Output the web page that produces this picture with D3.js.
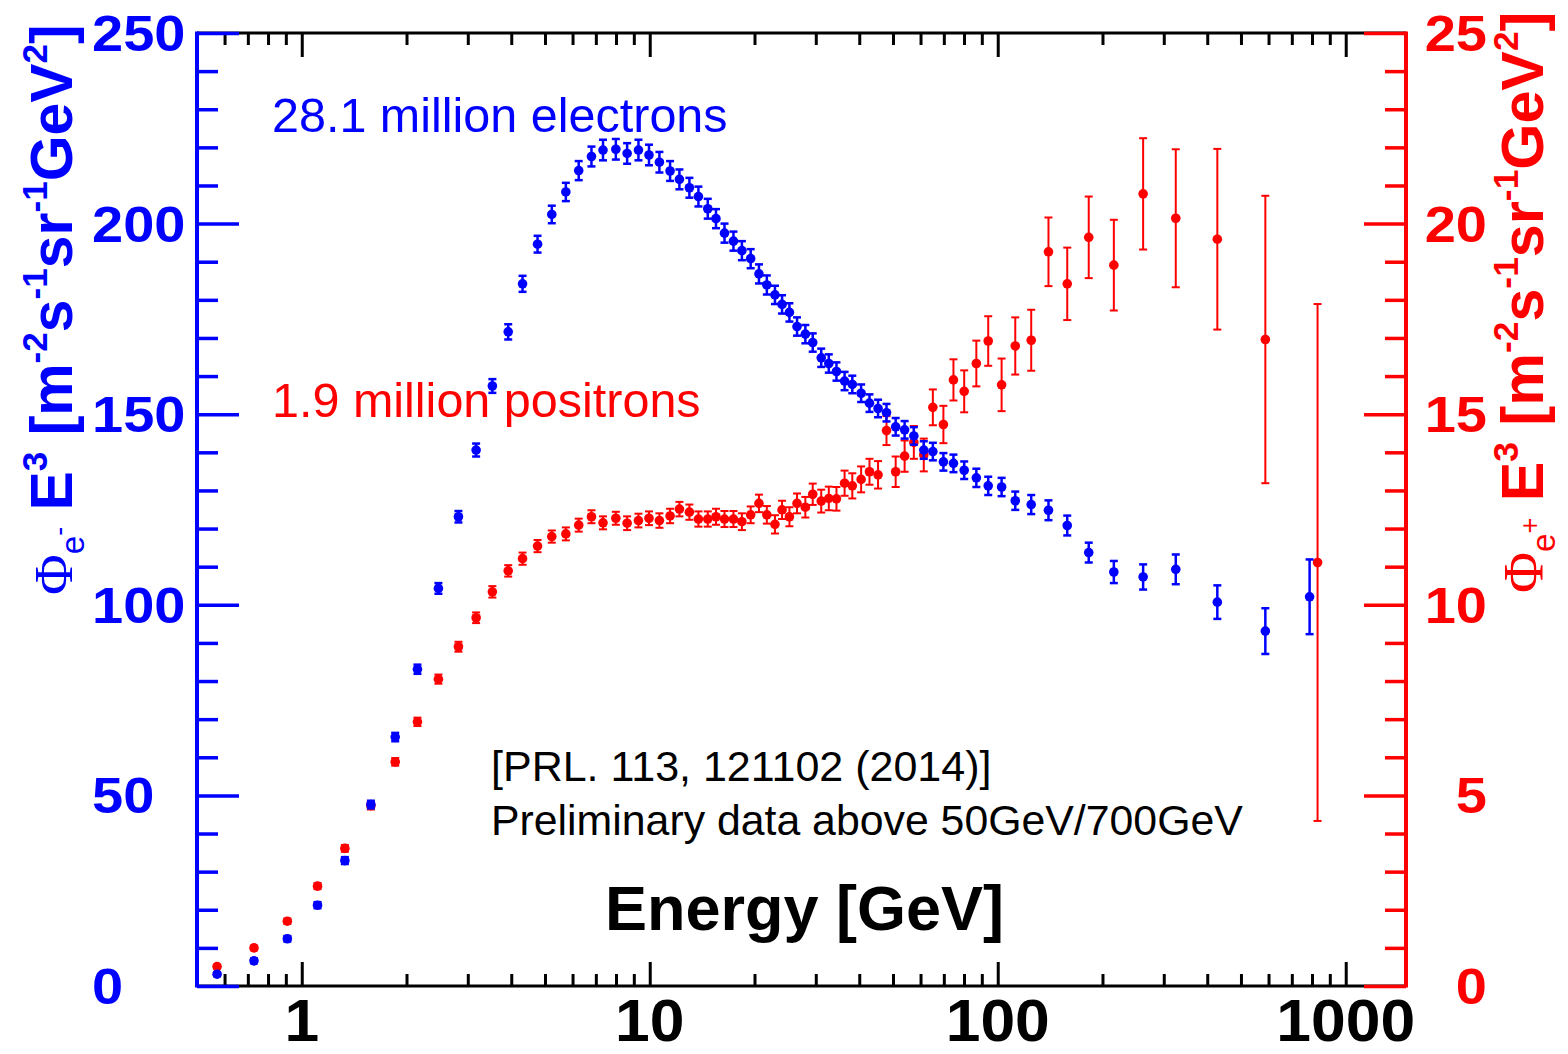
<!DOCTYPE html>
<html><head><meta charset="utf-8">
<script src="https://cdn.jsdelivr.net/npm/d3@7"></script>
<style>html,body{margin:0;padding:0;background:#fff;} svg{display:block;}</style>
</head><body><svg id="c" width="1568" height="1054"></svg>
<script>
// ---------------- data ----------------
const electronEnergy = [0.571,0.729,0.909,1.11,1.33,1.58,1.856,2.15,2.47,2.82,3.17,3.53,3.92,4.31,4.76,5.23,5.74,6.25,6.80,7.34,7.99,8.61,9.28,9.95,10.66,11.44,12.17,13.0,13.8,14.68,15.5,16.4,17.4,18.4,19.5,20.6,21.7,22.9,24.0,25.2,26.5,28.0,29.4,31.1,32.7,34.4,36.3,38.2,40.5,42.8,45.3,47.9,50.9,54.0,57.4,61.3,65.1,69.8,74.6,80.1,86.8,93.9,102.6,112.3,124.8,139.9,158.4,182.6,215.6,261.7,324.8,427.6,587.5,787.4];
const electronFlux = [3.1,6.6,12.4,21.2,32.9,47.6,65.3,83.1,104.3,123.1,140.6,157.4,171.6,184.2,194.6,202.4,208.3,213.9,217.6,219.3,219.5,218.4,219.3,218.0,216.1,213.8,211.6,209.4,207.1,203.9,201.3,197.5,195.4,192.9,190.8,186.8,183.9,181.3,178.8,176.7,173.0,171.0,168.8,164.8,163.3,161.2,158.7,157.8,155.5,152.9,151.5,150.4,146.7,145.9,144.3,140.6,140.2,137.5,137.1,135.3,133.3,131.2,130.9,127.3,126.3,124.8,120.8,113.7,108.6,107.3,109.3,100.7,93.1,102.1];
const electronErr = [0.5,0.6,0.7,0.8,0.9,1.0,1.1,1.2,1.4,1.5,1.7,1.8,2.0,2.1,2.2,2.3,2.4,2.5,2.6,2.7,2.7,2.7,2.7,2.7,2.7,2.6,2.6,2.6,2.6,2.6,2.5,2.5,2.5,2.5,2.5,2.5,2.5,2.4,2.4,2.4,2.4,2.4,2.4,2.4,2.4,2.4,2.4,2.3,2.3,2.3,2.3,2.3,2.3,2.3,2.3,2.3,2.3,2.3,2.3,2.3,2.4,2.4,2.4,2.4,2.5,2.6,2.6,2.6,2.9,3.3,3.9,4.4,6.0,9.8];

const positronEnergy = [0.571,0.729,0.909,1.11,1.33,1.58,1.856,2.15,2.47,2.82,3.17,3.53,3.92,4.31,4.76,5.23,5.74,6.25,6.80,7.34,7.99,8.61,9.28,9.95,10.66,11.44,12.17,13.0,13.8,14.68,15.5,16.4,17.4,18.4,19.5,20.6,21.7,22.9,24.0,25.2,26.5,28.0,29.4,31.1,32.7,34.4,36.3,38.2,40.5,42.8,45.3,47.9,50.9,54.0,57.4,61.3,65.1,69.8,74.6,80.1,86.8,93.9,102.6,112.3,124.8,139.9,158.4,182.6,215.6,261.7,324.8,427.6,587.5,830];
const positronFlux = [0.51,1.0,1.70,2.62,3.61,4.73,5.88,6.93,8.05,8.90,9.66,10.34,10.89,11.21,11.54,11.79,11.86,12.09,12.31,12.15,12.27,12.14,12.21,12.27,12.21,12.33,12.51,12.43,12.25,12.25,12.31,12.25,12.25,12.18,12.36,12.66,12.36,12.11,12.49,12.31,12.66,12.56,12.90,12.72,12.79,12.78,13.19,13.12,13.29,13.49,13.41,14.57,13.49,13.90,14.26,13.93,15.18,14.73,15.90,15.60,16.33,16.92,15.77,16.79,16.94,19.26,18.42,19.64,18.91,20.78,20.14,19.59,16.96,11.11];
const positronErr = [0.05,0.06,0.07,0.08,0.09,0.10,0.10,0.11,0.12,0.13,0.14,0.15,0.15,0.16,0.16,0.16,0.17,0.17,0.17,0.17,0.17,0.18,0.18,0.18,0.19,0.19,0.19,0.20,0.20,0.20,0.21,0.21,0.21,0.22,0.22,0.23,0.23,0.24,0.24,0.25,0.26,0.27,0.28,0.30,0.31,0.31,0.33,0.33,0.34,0.34,0.36,0.38,0.40,0.41,0.43,0.43,0.47,0.49,0.54,0.55,0.60,0.65,0.69,0.75,0.80,0.90,0.95,1.07,1.19,1.46,1.81,2.37,3.77,6.78];

const xMajorTicks = [1, 10, 100, 1000];
const xTickLabels = ["1", "10", "100", "1000"];
const leftMajorTicks = [0, 50, 100, 150, 200, 250];
const rightMajorTicks = [0, 5, 10, 15, 20, 25];
const leftMinorStep = 10, rightMinorStep = 1;

// ---------------- layout ----------------
const BLUE = "#0000ff", RED = "#ff0000";
const FONT = "'Liberation Sans', Arial, Helvetica, sans-serif";
const L = 197, R = 1406, T = 33, B = 986;
const svg = d3.select("#c");
svg.append("rect").attr("width",1568).attr("height",1054).attr("fill","#fff");

const x = d3.scaleLog().domain([0.5, 1500]).range([L, 1407]);
const yL = d3.scaleLinear().domain([0, 250]).range([B, T]);
const yR = d3.scaleLinear().domain([0, 25]).range([B, T]);

// frame (black)
const frame = svg.append("g").attr("stroke","#000").attr("stroke-width",3);
frame.append("line").attr("x1",L).attr("x2",R).attr("y1",T).attr("y2",T);
frame.append("line").attr("x1",L).attr("x2",R).attr("y1",B).attr("y2",B);

// x ticks bottom (pointing up) and top (pointing down)
const xMinor = x.ticks().filter(v => !xMajorTicks.includes(v));
function xAxes(gen, y) {
  const g1 = svg.append("g").attr("transform",`translate(0,${y})`)
    .call(gen(x).tickValues(xMajorTicks).tickSize(24).tickFormat(""));
  const g2 = svg.append("g").attr("transform",`translate(0,${y})`)
    .call(gen(x).tickValues(xMinor).tickSize(12).tickFormat(""));
  [g1,g2].forEach(g => { g.select(".domain").remove(); g.selectAll("line").attr("stroke","#000").attr("stroke-width",3); });
}
xAxes(d3.axisTop, B);
xAxes(d3.axisBottom, T);

// y axes
function yAxis(scale, gen, xpos, majors, step, color) {
  const dom = scale.domain();
  const minors = d3.range(dom[0], dom[1] + step/2, step).filter(v => !majors.includes(v));
  const g1 = svg.append("g").attr("transform",`translate(${xpos},0)`)
    .call(gen(scale).tickValues(minors).tickSize(21).tickFormat(""));
  const g2 = svg.append("g").attr("transform",`translate(${xpos},0)`)
    .call(gen(scale).tickValues(majors).tickSize(42).tickFormat(""));
  [g1,g2].forEach(g => { g.select(".domain").remove(); g.selectAll("line").attr("stroke",color).attr("stroke-width",3.5); });
  svg.append("line").attr("x1",xpos).attr("x2",xpos).attr("y1",T-1.5).attr("y2",B+1.5)
    .attr("stroke",color).attr("stroke-width",4);
}
yAxis(yL, d3.axisRight, L, leftMajorTicks, leftMinorStep, BLUE);
yAxis(yR, d3.axisLeft, R, rightMajorTicks, rightMinorStep, RED);

// tick labels
svg.append("g").selectAll("text").data(leftMajorTicks).join("text")
  .attr("transform", d => `translate(92,${yL(d)+18}) scale(1.12,1)`)
  .attr("font-family",FONT).attr("font-weight","bold").attr("font-size",50)
  .attr("fill",BLUE).text(d => d);
svg.append("g").selectAll("text").data(rightMajorTicks).join("text")
  .attr("transform", d => `translate(1487,${yR(d)+18}) scale(1.12,1)`)
  .attr("text-anchor","end")
  .attr("font-family",FONT).attr("font-weight","bold").attr("font-size",50)
  .attr("fill",RED).text(d => d);
svg.append("g").selectAll("text").data(xMajorTicks).join("text")
  .attr("transform", d => `translate(${x(d)},1041) scale(1.04,1)`)
  .attr("text-anchor","middle")
  .attr("font-family",FONT).attr("font-weight","bold").attr("font-size",60)
  .attr("fill","#000").text((d,i) => xTickLabels[i]);

// axis titles
function yTitle(tx, ty, color, sign, k) {
  const t = svg.append("text").attr("transform",`translate(${tx},${ty}) rotate(-90)`)
    .attr("fill",color).attr("font-family",FONT).attr("font-weight","bold").attr("font-size",57*k);
  const parts = [
    {t:"Φ", fs:54, fam:"'Liberation Serif', 'DejaVu Serif', serif", w:"normal", dy:0},
    {t:"e", fs:32, w:"normal", dy:12},
    {t:sign, fs:26, w:"normal", dy:-16},
    {t:" E", dy:4},
    {t:"3", fs:34, dy:-24},
    {t:" [m", dy:24},
    {t:"-2", fs:34, dy:-24},
    {t:"s", dy:24},
    {t:"-1", fs:34, dy:-24},
    {t:"sr", dy:24},
    {t:"-1", fs:34, dy:-24},
    {t:"GeV", dy:24},
    {t:"2", fs:34, dy:-24},
    {t:"]", dy:24}
  ];
  parts.forEach(p => {
    const s = t.append("tspan").attr("dy",p.dy*k).text(p.t);
    if (p.fs) s.attr("font-size",p.fs*k);
    if (p.fam) s.attr("font-family",p.fam);
    if (p.w) s.attr("font-weight",p.w);
  });
}
yTitle(72, 595, BLUE, "-", 1.033);
yTitle(1543, 593, RED, "+", 1.04);

// annotations
const ann = [
  {t:"28.1 million electrons", x:272, y:132, fs:48.5, c:BLUE, w:"normal"},
  {t:"1.9 million positrons", x:272, y:417, fs:48.5, c:RED, w:"normal"},
  {t:"[PRL. 113, 121102 (2014)]", x:491, y:781, fs:43, c:"#000", w:"normal"},
  {t:"Preliminary data above 50GeV/700GeV", x:491, y:835, fs:42.8, c:"#000", w:"normal"},
  {t:"Energy [GeV]", x:605, y:930, fs:63, c:"#000", w:"bold"}
];
svg.append("g").selectAll("text").data(ann).join("text")
  .attr("x",d=>d.x).attr("y",d=>d.y).attr("font-size",d=>d.fs)
  .attr("font-family",FONT).attr("font-weight",d=>d.w).attr("fill",d=>d.c).text(d=>d.t);

// data series with error bars
function series(E, V, Err, scale, color, sw) {
  const data = E.map((e,i) => ({e, v:V[i], s:Err[i]}));
  const g = svg.append("g");
  const pts = g.selectAll("g").data(data).join("g");
  pts.append("line").attr("x1",d=>x(d.e)).attr("x2",d=>x(d.e))
    .attr("y1",d=>scale(d.v-d.s)).attr("y2",d=>scale(d.v+d.s))
    .attr("stroke",color).attr("stroke-width",sw);
  [-1,1].forEach(k => {
    pts.append("line").attr("x1",d=>x(d.e)-4).attr("x2",d=>x(d.e)+4)
      .attr("y1",d=>scale(d.v+k*d.s)).attr("y2",d=>scale(d.v+k*d.s))
      .attr("stroke",color).attr("stroke-width",sw);
  });
  pts.append("circle").attr("cx",d=>x(d.e)).attr("cy",d=>scale(d.v)).attr("r",4.8).attr("fill",color);
}
series(positronEnergy, positronFlux, positronErr, yR, RED, 2);
series(electronEnergy, electronFlux, electronErr, yL, BLUE, 2.5);
</script>
</body></html>
